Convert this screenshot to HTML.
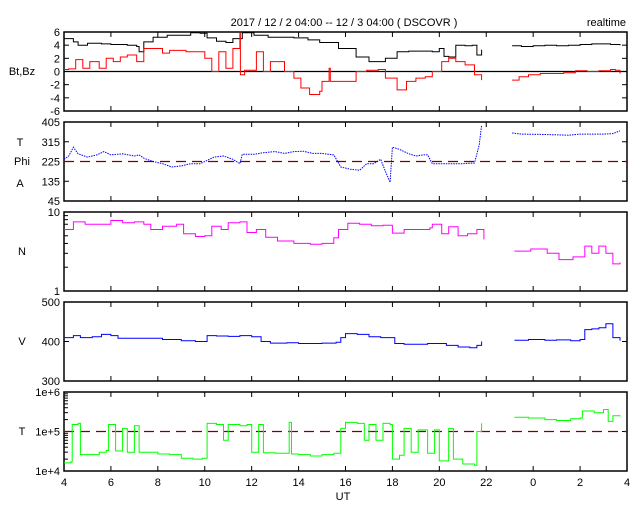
<!DOCTYPE html>
<html><head><meta charset="utf-8"><style>
html,body{margin:0;padding:0;background:#fff;}
svg{display:block;font-family:"Liberation Sans",sans-serif;font-size:11px;}
</style></head><body>
<svg id="c" width="640" height="512" xmlns="http://www.w3.org/2000/svg">
<text x="344" y="26" text-anchor="middle">2017 / 12 / 2   04:00 -- 12 / 3   04:00 ( DSCOVR )</text>
<text x="626" y="26" text-anchor="end">realtime</text>
<text x="343" y="500" text-anchor="middle">UT</text>
</svg>
<script>
// ---- data ----
const xTickLabels = ["4","6","8","10","12","14","16","18","20","22","0","2","4"];
const btT = [4.0,4.4,4.6,5.0,5.6,6.0,6.7,7.1,7.2,7.4,7.8,8.4,9.0,9.4,9.8,10.1,10.5,10.9,11.2,11.6,12.1,12.7,13.4,13.8,14.4,14.9,15.7,16.45,17.0,17.7,18.2,18.7,19.7,20.0,20.2,20.4,20.7,21.1,21.4,21.6,21.8, 23.1,23.5,24.0,24.5,25.0,25.5,26.0,26.5,27.0,27.3,27.7];
const btV = [5.0,4.5,4.0,4.3,4.2,4.1,4.0,3.8,3.0,4.5,5.2,5.5,5.5,5.9,5.8,5.1,4.6,4.4,5.0,5.9,5.5,5.2,5.2,5.1,4.8,4.4,3.5,2.2,1.5,2.0,3.0,3.1,3.0,3.5,2.3,2.2,4.0,3.9,4.0,2.5,3.3, 3.9,3.8,3.9,4.0,3.9,4.0,4.1,4.2,4.2,4.1,4.0];
const bzT = [4.0,4.2,4.5,4.8,5.1,5.5,5.8,6.1,6.4,6.7,7.1,7.4,7.8,8.2,8.5,9.2,9.8,10.0,10.3,10.6,10.9,11.2,11.5,11.52,11.7,12.2,12.5,12.8,13.4,13.8,14.1,14.47,14.9,15.0,15.3,15.35,15.7,16.2,16.45,16.9,17.4,17.7,18.2,18.6,19.0,19.4,19.7,20.1,20.4,20.7,21.1,21.5,21.8, 23.1,23.4,23.8,24.3,24.8,25.3,25.8,26.3,26.8,27.3,27.5,27.7];
const bzV = [0.3,0.4,1.8,0.5,1.5,0.5,2.0,1.5,2.2,2.5,1.5,3.5,3.5,2.8,3.2,3.0,3.0,2.0,0.0,3.0,0.5,3.5,5.8,-0.5,0.2,3.0,0.0,1.5,0.0,-1.0,-2.5,-3.5,-3.0,-1.5,0.5,-1.5,-1.5,-1.5,0.0,0.2,0.3,-1.0,-2.8,-1.5,-1.0,-0.8,0.0,1.5,2.0,1.5,1.0,-0.5,-1.3, -1.3,-0.8,-0.5,-0.3,-0.3,-0.2,0.1,0.0,0.1,0.3,0.2,-0.3];
const phiT = [4.0,4.2,4.4,4.6,5.0,5.4,5.7,6.0,6.5,7.0,7.2,7.4,7.8,8.2,8.6,9.0,9.4,9.8,10.1,10.4,10.8,11.2,11.5,11.6,12.1,12.5,13.0,13.4,13.8,14.2,14.6,15.0,15.5,15.8,16.2,16.6,16.9,17.2,17.5,17.7,17.9,18.0,18.3,18.7,19.0,19.3,19.5,19.7,20.2,20.6,21.0,21.5,21.7,21.8, 23.1,23.5,24.5,25.5,26.0,26.5,27.0,27.4,27.7];
const phiV = [235,250,290,260,245,255,270,255,260,250,255,240,225,215,200,205,215,215,230,245,250,235,215,258,258,265,270,262,270,272,262,262,255,200,190,185,215,215,235,180,130,290,280,260,250,255,255,215,215,215,215,218,300,390, 355,350,348,345,350,350,350,352,365];
const nT = [4.0,4.4,4.9,5.6,6.0,6.5,7.0,7.4,7.7,8.2,8.8,9.1,9.6,10.0,10.3,10.7,11.0,11.5,11.8,12.2,12.6,13.1,13.5,13.8,14.5,15.0,15.5,15.7,16.1,16.6,17.1,17.6,18.0,18.5,19.0,19.6,19.7,20.1,20.4,20.8,21.2,21.6,21.9, 23.2,23.9,24.6,25.1,25.7,26.0,26.2,26.5,26.8,27.1,27.4,27.7];
const nV = [6.0,7.5,7.0,7.0,7.8,7.3,7.5,7.0,6.0,6.6,7.0,5.3,4.9,5.0,6.6,6.0,7.3,7.5,5.5,6.0,4.8,4.3,4.3,4.0,3.9,4.0,4.7,6.0,7.2,7.0,6.7,6.8,5.4,6.0,6.0,6.3,7.0,5.3,6.5,5.0,5.3,6.0,4.5, 3.2,3.4,3.0,2.5,2.7,2.7,3.7,3.0,3.7,3.0,2.2,2.3];
const vT = [4.0,4.4,4.7,5.2,5.6,6.0,6.3,7.0,7.5,8.2,9.0,9.6,10.0,10.1,10.5,11.0,11.5,12.0,12.4,12.8,13.5,14.0,14.5,15.0,15.6,15.8,16.0,16.5,17.0,17.5,18.0,18.1,18.5,19.0,19.5,20.0,20.3,20.8,21.3,21.6,21.8, 23.2,23.8,24.5,25.0,25.6,26.0,26.2,26.5,26.8,27.1,27.4,27.7];
const vV = [410,415,410,412,418,415,408,408,408,405,402,400,400,415,414,413,415,412,400,396,397,395,395,396,398,410,420,418,412,410,410,395,393,393,395,395,390,386,384,390,400, 403,405,403,404,402,405,430,432,435,445,410,402];
const tT = [4.0,4.3,4.35,4.6,4.7,5.0,5.5,5.8,5.9,6.2,6.5,6.7,7.0,7.2,7.5,8.0,8.5,9.0,9.5,9.9,10.1,10.5,10.8,11.0,11.5,11.8,12.0,12.3,12.5,13.0,13.5,13.6,13.7,14.0,14.5,15.0,15.5,15.8,16.0,16.5,16.8,17.0,17.3,17.6,17.9,18.0,18.3,18.5,18.8,19.1,19.5,19.8,20.0,20.4,20.6,21.0,21.5,21.6,21.8, 23.2,23.8,24.5,25.0,25.6,26.0,26.1,26.6,27.0,27.2,27.4,27.7];
const tV = [1.6e4,1.7e4,1.5e5,1.6e5,2.6e4,2.6e4,3.0e4,3.3e4,1.5e5,3.2e4,1.2e5,3.0e4,1.4e5,3.0e4,3.0e4,2.7e4,2.6e4,2.1e4,2.0e4,2.1e4,1.6e5,1.5e5,6e4,1.5e5,1.4e5,1.5e5,3e4,1.5e5,2.9e4,2.8e4,2.8e4,1.7e5,2.7e4,2.6e4,2.4e4,2.6e4,2.8e4,1.2e5,1.7e5,1.6e5,6e4,1.5e5,6e4,1.6e5,1.5e5,2.0e4,2.5e4,1.2e5,3.0e4,1.1e5,2.8e4,1.1e5,1.8e4,1.2e5,2e4,1.5e4,1.4e4,1.0e5,1.6e5, 2.3e5,2.2e5,2.0e5,1.9e5,2.1e5,2.2e5,3.3e5,3.0e5,3.6e5,1.8e5,2.5e5,2.4e5];

// ---- drawing ----
const svg = document.getElementById('c');
const NS = 'http://www.w3.org/2000/svg';
const X0 = 64, X1 = 627, H = 79;
const xs = h => X0 + (h - 4) / 24 * (X1 - X0);
function mk(tag, attrs, parent) {
  const e = document.createElementNS(NS, tag);
  for (const k in attrs) e.setAttribute(k, attrs[k]);
  (parent || svg).appendChild(e);
  return e;
}
function linScale(top, lo, hi) { return v => top + H - (v - lo) / (hi - lo) * H; }
function logScale(top, lo, hi) { return v => top + H - (Math.log10(v) - lo) / (hi - lo) * H; }

function panel(name, top, ticks, ys, side, minor) {
  const g = mk('g', {});
  
  
  const r = mk('rect', {x: X0, y: top, width: X1 - X0, height: H, fill: 'none', stroke: '#000', 'stroke-width': 1.5}, g);
  
  
  for (let i = 1; i < 12; i++) {
    const x = xs(4 + i * 2);
    const t1 = mk('line', {x1: x, x2: x, y1: top + H, y2: top + H - 5, stroke: '#000'}, g);
    
    
    const t2 = mk('line', {x1: x, x2: x, y1: top, y2: top + 5, stroke: '#000'}, g);
    
    
  }
  ticks.forEach(t => {
    const y = ys(t.v);
    const a = mk('line', {x1: X0, x2: X0 + 5, y1: y, y2: y, stroke: '#000'}, g);
    
    
    const b = mk('line', {x1: X1, x2: X1 - 5, y1: y, y2: y, stroke: '#000'}, g);
    
    
    const tx = mk('text', {x: 60, y: y + 4, 'text-anchor': 'end'}, g);
    
    
    tx.textContent = t.l;
  });
  (minor || []).forEach(v => {
    const y = ys(v);
    const m = mk('line', {x1: X0, x2: X0 + 4, y1: y, y2: y, stroke: '#000'}, g);
    
    
  });
  side.forEach(s => {
    const tx = mk('text', {x: s.x, y: s.y, 'text-anchor': 'middle'}, g);
    
    
    tx.textContent = s.t;
  });
  return g;
}
function series(name, T, V, ys, color, dash, step) {
  let segs = [[]];
  for (let i = 0; i < T.length; i++) {
    const newSeg = i > 0 && T[i] - T[i - 1] > 1;
    if (newSeg) segs.push([]);
    const s = segs[segs.length - 1];
    if (step && s.length) s.push(xs(T[i]).toFixed(1) + ',' + ys(V[i - 1]).toFixed(1));
    s.push(xs(T[i]).toFixed(1) + ',' + ys(V[i]).toFixed(1));
  }
  segs.forEach(s => {
    const p = mk('polyline', {points: s.join(' '), fill: 'none', stroke: color, 'stroke-width': 1});
    if (dash) p.setAttribute('stroke-dasharray', dash);
    
    
  });
}
function hline(name, y, color, dash) {
  const l = mk('line', {x1: X0, x2: X1, y1: y, y2: y, stroke: color, 'stroke-width': 1.2});
  if (dash) l.setAttribute('stroke-dasharray', dash);
  
  
}

// panel 1
const y1 = linScale(32, -6, 6);
panel('magnetic-field', 32, [6,4,2,0,-2,-4,-6].map(v => ({v, l: String(v)})), y1, [{x: 22, y: 75, t: 'Bt,Bz'}]);
hline('bz-zero-line', y1(0), '#000');
series('bt', btT, btV, y1, '#000', null, true);
series('bz', bzT, bzV, y1, '#f00', null, true);
// panel 2
const y2 = linScale(122, 45, 405);
panel('phi-angle', 122, [405,315,225,135,45].map(v => ({v, l: String(v)})), y2, [{x: 20, y: 146, t: 'T'}, {x: 22, y: 165, t: 'Phi'}, {x: 20, y: 187, t: 'A'}]);
hline('phi-225-line', y2(225), '#800000', '10 6');
series('phi', phiT, phiV, y2, '#00f', '1.5 1', false);
// panel 3
const y3 = logScale(212, 0, 1);
panel('density', 212, [{v: 10, l: '10'}, {v: 1, l: '1'}], y3, [{x: 22, y: 255, t: 'N'}], [2,3,4,5,6,7,8,9]);
series('density', nT, nV, y3, '#f0f', null, true);
// panel 4
const y4 = linScale(302, 300, 500);
panel('speed', 302, [{v: 500, l: '500'}, {v: 400, l: '400'}, {v: 300, l: '300'}], y4, [{x: 22, y: 345, t: 'V'}]);
series('speed', vT, vV, y4, '#00f', null, true);
// panel 5
const y5 = logScale(392, 4, 6);
panel('temperature', 392, [{v: 1e6, l: '1e+6'}, {v: 1e5, l: '1e+5'}, {v: 1e4, l: '1e+4'}], y5, [{x: 22, y: 435, t: 'T'}],
  [2e4,3e4,4e4,5e4,6e4,7e4,8e4,9e4,2e5,3e5,4e5,5e5,6e5,7e5,8e5,9e5]);
hline('temp-1e5-line', y5(1e5), '#800000', '10 6');
series('temperature', tT, tV, y5, '#0f0', null, true);

xTickLabels.forEach((l, i) => {
  const t = mk('text', {x: xs(4 + i * 2), y: 486, 'text-anchor': 'middle'});
  
  
  t.textContent = l;
});
</script>
</body></html>
